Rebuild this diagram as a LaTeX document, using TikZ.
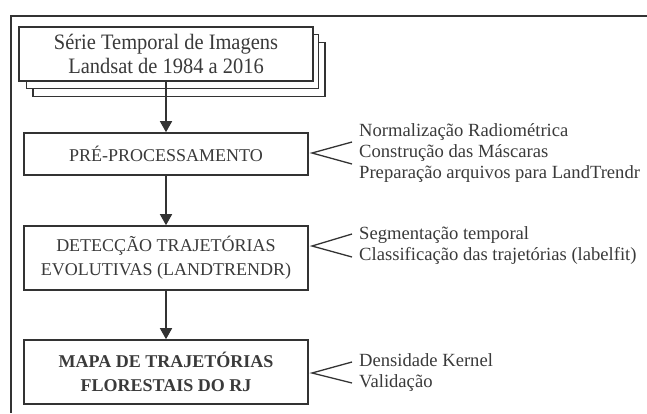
\documentclass[tikz,border=0pt]{standalone}
\usepackage{fontspec}
\setmainfont{Liberation Serif}
\newfontfamily\serfont[FakeStretch=0.93]{Liberation Serif}
\usetikzlibrary{arrows.meta}
\definecolor{ink}{HTML}{333333}
\definecolor{txt}{HTML}{3A3A3A}
\tikzset{
  x=1pt, y=-1pt,
  box/.style={draw=ink, line width=1.6pt, fill=white, text=txt, align=center,
    font=\fontsize{18}{24}\selectfont, inner sep=0pt},
  side/.style={anchor=west, align=left, text=txt, inner sep=0pt,
    font=\fontsize{18.6}{21}\selectfont},
  flow/.style={draw=ink, line width=1.5pt, -{Triangle[length=11pt,width=12pt]}},
  brace/.style={draw=ink, line width=1.3pt},
}
\begin{document}
\begin{tikzpicture}
\useasboundingbox (0,0) rectangle (647,413);
% outer frame (cropped)
\draw[ink, line width=1.6pt] (647,16) -- (11,16) -- (11,413);
% stacked source box
\node[box, minimum width=292pt, minimum height=54pt] (s3) at (179,69.5) {};
\node[box, minimum width=292pt, minimum height=54pt] (s2) at (172.5,61.5) {};
\node[box, minimum width=294pt, minimum height=54pt, font=\serfont\fontsize{22}{24}\selectfont] (s1) at (166,54) {Série Temporal de Imagens\\Landsat de 1984 a 2016};
% process boxes
\node[box, minimum width=284pt, minimum height=42pt] (pre) at (166,154) {PRÉ-PROCESSAMENTO};
\node[box, minimum width=284pt, minimum height=64pt] (det) at (166,258) {DETECÇÃO TRAJETÓRIAS\\EVOLUTIVAS (LANDTRENDR)};
\node[box, minimum width=284pt, minimum height=64pt, font=\fontsize{18}{24}\selectfont\bfseries] (map) at (166,372) {MAPA DE TRAJETÓRIAS\\FLORESTAIS DO RJ};
% arrows
\draw[flow] (s1.south) -- (pre.north);
\draw[flow] (pre.south) -- (det.north);
\draw[flow] (det.south) -- (map.north);
% side notes
\node[side] (n1) at (359,153.5) {Normalização Radiométrica\\Construção das Máscaras\\Preparação arquivos para LandTrendr};
\node[side] (n2) at (359,246) {Segmentação temporal\\Classificação das trajetórias (labelfit)};
\node[side] (n3) at (359,373) {Densidade Kernel\\Validação};
% brace connectors
\coordinate (v1) at (312,153); \coordinate (a1) at (352,142); \coordinate (b1) at (352,164);
\coordinate (v2) at (312,246); \coordinate (a2) at (352,234); \coordinate (b2) at (352,257);
\coordinate (v3) at (312,373); \coordinate (a3) at (352,362); \coordinate (b3) at (352,383);
\draw[brace] (a1) -- (v1) -- (b1);
\draw[brace] (a2) -- (v2) -- (b2);
\draw[brace] (a3) -- (v3) -- (b3);
\end{tikzpicture}
\end{document}
